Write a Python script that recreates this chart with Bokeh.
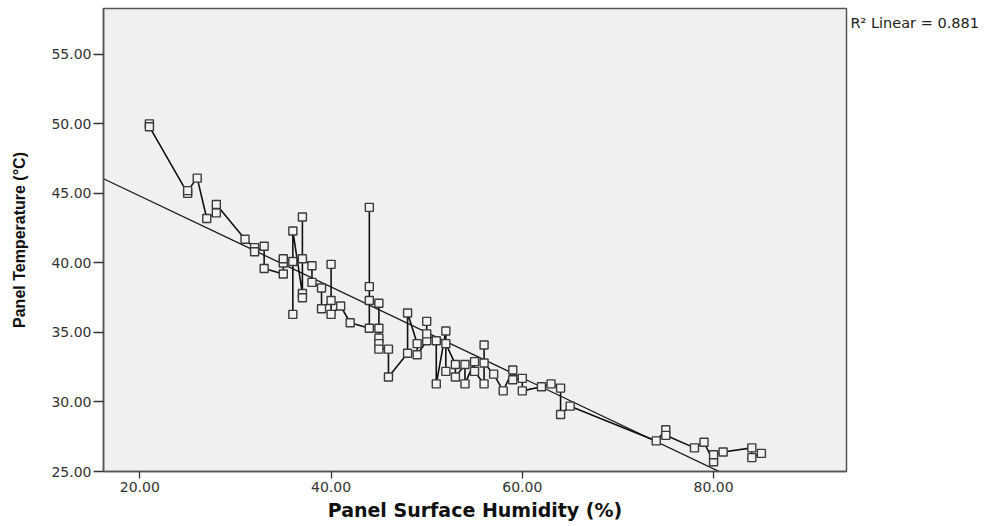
from bokeh.plotting import figure
from bokeh.layouts import row
from bokeh.models import Range1d, FixedTicker, NumeralTickFormatter, ColumnDataSource
from bokeh.core.properties import value
from bokeh.embed import file_html
from bokeh.resources import INLINE

# ---- data ----
humidity = [21, 21, 25, 25, 26, 27, 28, 28, 31, 32, 32, 33, 33, 35, 35, 35,
            36, 36, 36, 37, 37, 37, 37, 38, 38, 39, 39, 40, 40, 40, 41, 42,
            44, 44, 44, 44, 45, 45, 45, 45, 45, 46, 46, 48, 48, 49, 49,
            50, 50, 50, 51, 51, 52, 52, 52, 53, 53, 54, 54, 55, 55,
            56, 56, 56, 57, 58, 59, 59, 60, 60, 62, 63, 64, 64, 65,
            74, 75, 75, 78, 79, 80, 80, 81, 84, 84, 85]
temperature = [50.0, 49.8, 45.0, 45.2, 46.1, 43.2, 43.6, 44.2, 41.7, 41.1, 40.8, 41.2, 39.6, 39.2, 40.0, 40.3,
               40.1, 36.3, 42.3, 37.8, 43.3, 37.5, 40.3, 39.8, 38.6, 38.2, 36.7, 37.3, 39.9, 36.3, 36.9, 35.7,
               35.3, 44.0, 38.3, 37.3, 37.1, 35.3, 34.6, 34.2, 33.8, 33.8, 31.8, 33.5, 36.4, 34.2, 33.4,
               34.4, 35.8, 34.9, 34.4, 31.3, 35.1, 32.2, 34.2, 32.7, 31.8, 32.7, 31.3, 32.9, 32.2,
               31.3, 34.1, 32.8, 32.0, 30.8, 32.3, 31.6, 31.7, 30.8, 31.1, 31.3, 31.0, 29.1, 29.7,
               27.2, 28.0, 27.6, 26.7, 27.1, 25.7, 26.2, 26.4, 26.7, 26.0, 26.3]
fit_intercept = 51.35
fit_slope = -0.327
r2_text = "R\u00b2 Linear = 0.881"
x_ticks = [20, 40, 60, 80]
y_ticks = [25, 30, 35, 40, 45, 50, 55]
x_start, x_end = 16.2, 93.9
y_start, y_end = 25.0, 58.3

p = figure(width=848, height=526, output_backend="svg", toolbar_location=None,
           x_range=Range1d(x_start, x_end), y_range=Range1d(y_start, y_end),
           min_border_left=103, min_border_right=2, min_border_top=8, min_border_bottom=55,
           background_fill_color="#f0f0f0", border_fill_color="white")
p.grid.visible = False
p.outline_line_color = "#555555"
p.outline_line_width = 1.5

# fit line across the axis range
fx = [x_start, x_end]
fy = [fit_intercept + fit_slope * v for v in fx]
p.line(fx, fy, line_color="#1a1a1a", line_width=1.3)

src = ColumnDataSource(dict(x=humidity, y=temperature))
p.line("x", "y", source=src, line_color="#111111", line_width=1.6)
p.scatter("x", "y", source=src, marker="square", size=8, fill_color="#f2f2f2",
          line_color="#3a3a3a", line_width=1.4)

for ax in (p.xaxis, p.yaxis):
    ax.axis_line_color = "#555555"
    ax.axis_line_width = 1.5
    ax.major_tick_line_color = "#333333"
    ax.major_tick_line_width = 1.3
    ax.major_tick_in = 0
    ax.minor_tick_line_color = None
    ax.major_label_text_font = "DejaVu Sans"
    ax.major_label_text_font_size = "14px"
    ax.major_label_text_color = "#333333"
    ax.formatter = NumeralTickFormatter(format="0.00")

p.xaxis.ticker = FixedTicker(ticks=x_ticks)
p.yaxis.ticker = FixedTicker(ticks=y_ticks)
p.xaxis.major_tick_out = 7
p.yaxis.major_tick_out = 10
p.xaxis.major_label_standoff = 3
p.yaxis.major_label_standoff = 2

p.xaxis.axis_label = "Panel Surface Humidity (%)"
p.xaxis.axis_label_text_font = "DejaVu Sans"
p.xaxis.axis_label_text_font_style = "bold"
p.xaxis.axis_label_text_font_size = "19px"
p.xaxis.axis_label_text_color = "#111111"
p.xaxis.axis_label_standoff = 4

p.yaxis.axis_label = "Panel Temperature (\u00b0C)"
p.yaxis.axis_label_text_font = "Liberation Sans"
p.yaxis.axis_label_text_font_style = "bold"
p.yaxis.axis_label_text_font_size = "16px"
p.yaxis.axis_label_text_color = "#111111"
p.yaxis.axis_label_standoff = 20

# side panel carrying the R² note (pixel-like coordinates)
side = figure(width=141, height=526, output_backend="svg", toolbar_location=None,
              x_range=Range1d(0, 141), y_range=Range1d(526, 0),
              min_border_left=0, min_border_right=0, min_border_top=0, min_border_bottom=0,
              background_fill_color="white", border_fill_color="white")
side.axis.visible = False
side.grid.visible = False
side.outline_line_color = None
side.text(x=[2], y=[17], text=[r2_text], text_font=value("DejaVu Sans"),
          text_font_size="14.5px", text_color="#222222", text_baseline="middle",
          text_align="left")

layout = row(p, side, spacing=0)
open("out.html", "w").write(file_html(layout, INLINE))
